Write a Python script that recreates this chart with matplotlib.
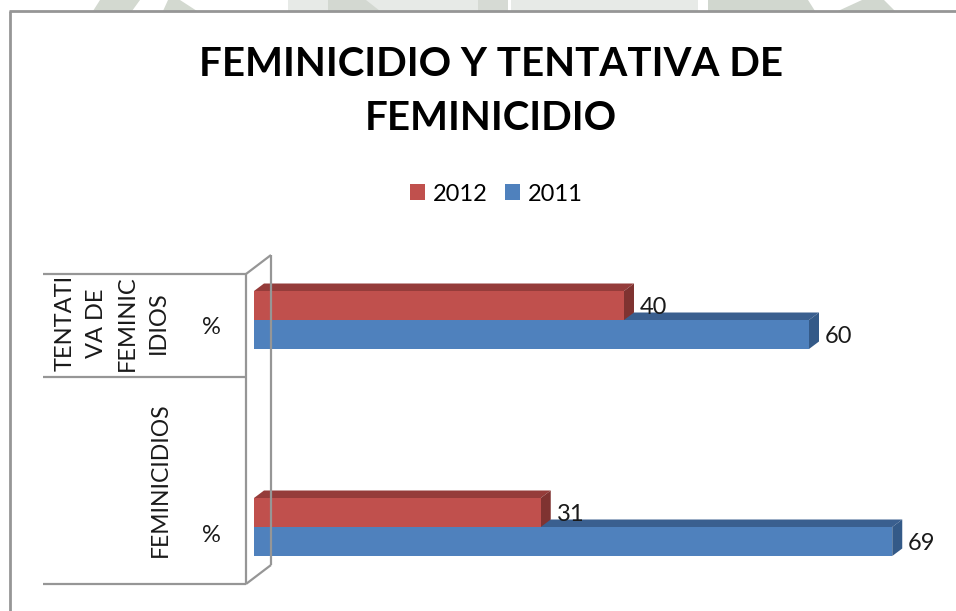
import matplotlib
matplotlib.use('Agg')
import matplotlib.pyplot as plt
from matplotlib.lines import Line2D
from matplotlib.patches import Polygon

### DATA

years = ['2012', '2011']
tentativa = [40, 60]
feminicidios = [31, 69]
percent_label = '%'
category_labels = ['FEMINICIDIOS', 'TENTATI\nVA DE\nFEMINIC\nIDIOS']
title_text = 'FEMINICIDIO Y TENTATIVA DE\nFEMINICIDIO'

### LAYOUT (pixels of the 956x611 picture)

W, H = 956, 611
plt.rcParams['font.family'] = ['Lato', 'DejaVu Sans']

fig = plt.figure(figsize=(W / 100, H / 100), dpi=100)
fig.patch.set_facecolor('white')

def fx(p):
    return p / W

def fy(p):
    return 1 - p / H

def line(xs, ys, color='#969696', lw=1.6):
    fig.add_artist(Line2D([fx(x) for x in xs], [fy(y) for y in ys], color=color, lw=lw,
                          transform=fig.transFigure, solid_capstyle='butt'))

def shape(pts, color):
    fig.add_artist(Polygon([(fx(x), fy(y)) for x, y in pts], closed=True, color=color, lw=0,
                           transform=fig.transFigure))

# watermark of the page showing above the frame
shape([(288, 0), (478, 0), (478, 11), (288, 11)], '#e7eae7')
shape([(511, 0), (698, 0), (698, 11), (511, 11)], '#e7eae7')
shape([(100, 0), (140, 0), (132, 11), (93, 11)], '#d3d9d0')
shape([(168, 0), (180, 0), (197, 11), (163, 11)], '#d3d9d0')
shape([(328, 0), (366, 0), (380, 11), (328, 11)], '#d3d8d1')
shape([(478, 0), (508, 0), (508, 11), (478, 11)], '#d6dad4')
shape([(708, 0), (808, 0), (815, 11), (708, 11)], '#d1d7cf')
shape([(862, 0), (884, 0), (895, 11), (838, 11)], '#d1d7cf')

# axes: x=0 at px 254, 9.25 px per unit. y: categories 207 px apart
ax = fig.add_axes([fx(254), fy(584), (950 - 254) / W, (584 - 274) / H])
ax.set_xlim(0, (950 - 254) / 9.25)
ax.set_ylim(-57 / 207, 1 + 46 / 207)
ax.axis('off')

DX = 10 / 9.25  # bar depth
DY = 7.5 / 207
BAR = 29 / 207

series = {
    '2011': ('#4f81bd', '#3a5f8f', '#345a88', -BAR / 2),
    '2012': ('#c0504d', '#953c3a', '#7f3331', BAR / 2),
}
vals = {'2012': [feminicidios[0], tentativa[0]], '2011': [feminicidios[1], tentativa[1]]}

# back wall and category lines
line([246, 246], [274, 584])
line([271, 271], [255, 565])
line([246, 271], [274, 255])
line([246, 271], [584, 565])
for y in [274, 377, 584]:
    line([43, 246], [y, y])

# outer frame
line([10, 10], [11, 611], lw=2)
line([9, 956], [11, 11], lw=2)

handles = {}
for yr in ['2011', '2012']:
    front, top, side, off = series[yr]
    for i, v in enumerate(vals[yr]):
        y0 = i + off - BAR / 2
        y1 = i + off + BAR / 2
        ax.fill([0, DX, v + DX, v], [y1, y1 + DY, y1 + DY, y1], color=top, lw=0, clip_on=False, zorder=2)
        ax.fill([v, v + DX, v + DX, v], [y0, y0 + DY, y1 + DY, y1], color=side, lw=0, clip_on=False, zorder=2)
    handles[yr] = ax.barh([i + off for i in range(2)], vals[yr], height=BAR, color=front, zorder=3, label=yr)
    for i, v in enumerate(vals[yr]):
        ax.annotate(str(v), (v, i + off), xytext=(11.5, -1.5), textcoords='offset points',
                    va='center', ha='left', fontsize=17, color='#1a1a1a', zorder=4, annotation_clip=False)

leg = fig.legend([handles[y] for y in years], years, loc='center', bbox_to_anchor=(fx(496.5), fy(194)),
                 ncol=2, frameon=False, fontsize=17, handlelength=0.64, handleheight=0.64,
                 handletextpad=0.32, columnspacing=0.75, borderpad=0)

fig.text(fx(491), fy(91.5), title_text, ha='center', va='center', fontsize=29, fontweight='bold',
         color='black', linespacing=1.57)

# category labels
fig.text(fx(112), fy(323), category_labels[1], rotation=90, ha='center', va='center', fontsize=17,
         color='#1a1a1a', linespacing=1.6, multialignment='center')
fig.text(fx(160), fy(480), category_labels[0], rotation=90, ha='center', va='center', fontsize=16.5,
         color='#1a1a1a')
fig.text(fx(211), fy(328), percent_label, ha='center', va='center', fontsize=17, color='#1a1a1a')
fig.text(fx(211), fy(535), percent_label, ha='center', va='center', fontsize=17, color='#1a1a1a')

fig.savefig('out.png', dpi=100)
